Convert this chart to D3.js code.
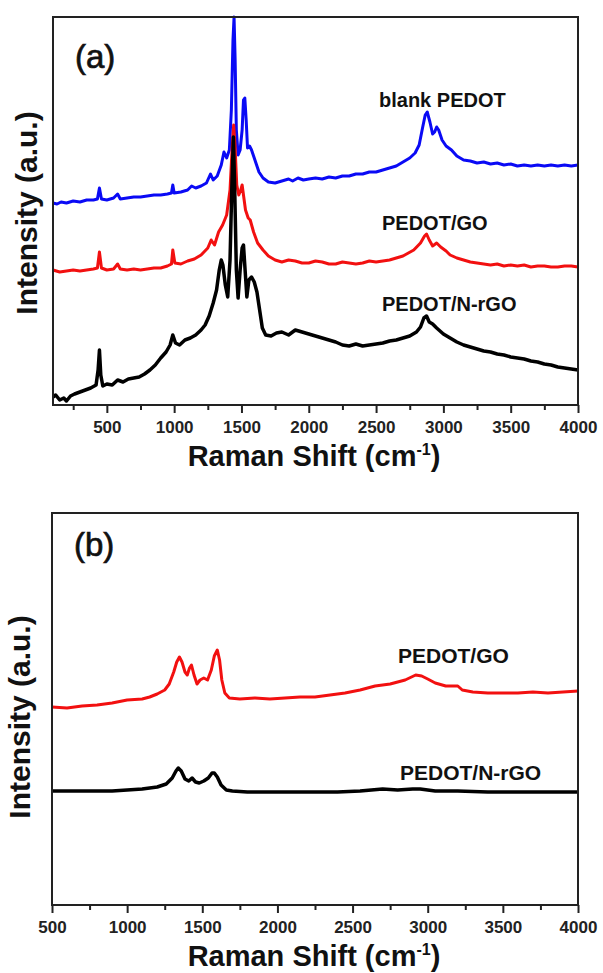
<!DOCTYPE html>
<html>
<head>
<meta charset="utf-8">
<script src="https://cdn.jsdelivr.net/npm/d3@7"></script>
<style>
  body { margin: 0; background: #fff; }
  svg { display: block; font-family: "Liberation Sans", Arial, sans-serif; }
</style>
</head>
<body>
<svg id="chart" width="603" height="973"></svg>
<script>
// ---- data (x = Raman shift in cm-1, y = intensity in a.u.) ----
const blankPedotA = [
  [100,202],[130,201],[160,203],[200,202],[250,204],[300,203],[350,205],[400,205],[430,206],[445,217],[460,206],
  [500,205],[550,207],[580,211],[600,206],[650,207],[700,208],[750,208],[800,209],[850,210],[900,210],[950,211],
  [980,212],[990,220],[1000,212],[1050,213],[1100,215],[1130,219],[1160,217],[1200,219],[1240,222],[1270,231],
  [1290,225],[1320,229],[1350,240],[1370,253],[1390,247],[1410,255],[1425,295],[1437,365],[1445,388],[1453,345],
  [1462,275],[1475,250],[1490,255],[1505,275],[1515,305],[1525,307],[1535,285],[1545,257],[1560,259],[1575,255],
  [1600,245],[1630,233],[1660,227],[1700,223],[1750,222],[1800,224],[1850,226],[1880,224],[1920,227],[1960,225],
  [2000,226],[2050,227],[2100,226],[2150,228],[2200,227],[2250,229],[2300,229],[2350,231],[2400,231],[2450,233],
  [2500,233],[2550,235],[2600,237],[2650,239],[2700,243],[2750,247],[2790,252],[2820,260],[2845,277],[2865,290],
  [2880,293],[2900,283],[2920,271],[2935,273],[2950,278],[2965,275],[2990,265],[3020,259],[3060,255],[3100,249],
  [3150,245],[3200,244],[3250,242],[3300,243],[3350,241],[3400,242],[3450,240],[3500,241],[3550,239],[3600,240],
  [3650,239],[3700,240],[3750,239],[3800,240],[3850,239],[3900,240],[3950,239],[4000,240]
];

const pedotGoA = [
  [100,135],[150,133],[200,134],[250,135],[300,134],[350,135],[400,136],[430,137],[445,153],[460,137],[500,135],
  [550,136],[580,141],[600,136],[650,135],[700,136],[750,135],[800,136],[850,137],[900,137],[950,139],[980,141],
  [990,155],[1005,142],[1050,141],[1100,144],[1150,146],[1200,150],[1250,157],[1275,165],[1300,160],[1330,173],
  [1360,180],[1390,190],[1415,215],[1430,255],[1442,280],[1452,260],[1465,220],[1480,210],[1495,215],[1505,220],
  [1515,210],[1530,195],[1550,187],[1565,185],[1590,173],[1620,162],[1660,155],[1700,149],[1750,145],[1800,143],
  [1850,145],[1900,144],[1950,142],[2000,142],[2050,144],[2100,143],[2150,141],[2200,141],[2250,143],[2300,142],
  [2350,141],[2400,142],[2450,144],[2500,143],[2550,144],[2600,145],[2650,147],[2700,149],[2740,152],[2780,155],
  [2830,162],[2860,169],[2875,171],[2895,165],[2920,159],[2950,162],[2980,158],[3020,154],[3050,150],[3100,147],
  [3150,145],[3200,143],[3250,142],[3300,141],[3350,140],[3400,141],[3450,139],[3500,140],[3550,139],[3600,140],
  [3650,138],[3700,139],[3750,139],[3800,138],[3850,138],[3900,139],[3950,139],[4000,138]
];

const pedotNrgoA = [
  [100,8],[120,10],[150,5],[180,7],[200,4],[230,9],[260,11],[300,13],[340,15],[380,17],[420,20],[435,35],[445,55],
  [455,30],[470,19],[500,21],[540,20],[580,25],[620,23],[660,26],[700,27],[740,28],[780,31],[820,35],[860,40],
  [900,47],[940,53],[970,60],[990,70],[1010,62],[1040,60],[1080,65],[1120,67],[1160,70],[1200,75],[1230,80],
  [1260,89],[1290,102],[1315,115],[1335,135],[1350,145],[1362,140],[1380,120],[1398,108],[1415,145],[1428,215],
  [1440,268],[1450,215],[1462,135],[1475,107],[1490,135],[1505,157],[1515,160],[1527,135],[1540,108],[1555,125],
  [1575,128],[1595,123],[1615,113],[1635,95],[1655,77],[1680,70],[1720,69],[1760,72],[1800,73],[1850,70],
  [1900,75],[1950,73],[2000,71],[2050,69],[2100,67],[2150,65],[2200,63],[2250,60],[2300,59],[2350,61],[2400,59],
  [2450,60],[2500,61],[2550,62],[2600,64],[2650,65],[2700,67],[2750,69],[2800,73],[2830,78],[2855,87],[2875,89],
  [2895,83],[2920,81],[2950,77],[3000,71],[3050,67],[3100,63],[3150,60],[3200,58],[3250,56],[3300,54],[3350,53],
  [3400,51],[3450,50],[3500,48],[3550,47],[3600,46],[3650,44],[3700,43],[3750,41],[3800,40],[3850,38],[3900,37],
  [3950,36],[4000,35]
];

const pedotGoB = [
  [500,198],[600,197],[700,199],[800,200],[900,202],[1000,205],[1100,206],[1150,208],[1200,211],[1250,215],
  [1280,221],[1310,233],[1330,243],[1348,248],[1365,243],[1385,233],[1400,230],[1415,237],[1428,240],[1445,230],
  [1465,221],[1485,225],[1510,227],[1535,225],[1560,235],[1580,249],[1600,255],[1615,245],[1630,225],[1650,212],
  [1680,207],[1750,206],[1850,207],[1950,206],[2050,207],[2150,208],[2250,208],[2350,210],[2450,212],[2550,215],
  [2650,219],[2750,221],[2850,225],[2920,230],[2960,229],[3000,226],[3050,222],[3120,219],[3200,219],[3230,215],
  [3300,213],[3400,212],[3500,212],[3600,212],[3700,213],[3800,212],[3900,213],[4000,214]
];

const pedotNrgoB = [
  [500,114],[700,114],[900,114],[1000,115],[1100,116],[1200,118],[1260,121],[1300,127],[1325,134],[1340,137],
  [1360,134],[1385,126],[1410,124],[1432,127],[1455,123],[1480,122],[1510,124],[1540,127],[1565,132],[1580,132],
  [1600,128],[1625,120],[1660,115],[1700,114],[1800,113],[1900,113],[2000,113],[2200,113],[2400,113],[2550,114],
  [2700,116],[2800,115],[2900,116],[2950,116],[3050,114],[3200,114],[3400,113],[3600,113],[3800,113],[4000,113]
];

const majorTicks = [500, 1000, 1500, 2000, 2500, 3000, 3500, 4000];
const minorTicksA = [250, 750, 1250, 1750, 2250, 2750, 3250, 3750];
const minorTicksB = [750, 1250, 1750, 2250, 2750, 3250, 3750];

const svg = d3.select('#chart');

function drawPanel(opts) {
  const { left, right, top, bottom, xDomain, yMax, series, minor, tag, titleX, titleBase, yTitleX } = opts;

  const x = d3.scaleLinear().domain(xDomain).range([left, right]);
  const y = d3.scaleLinear().domain([0, yMax]).range([bottom, top]);

  const g = svg.append('g');

  const line = d3.line()
    .x(d => x(d[0]))
    .y(d => y(d[1]));

  g.selectAll('path.trace')
    .data(series)
    .join('path')
    .attr('class', 'trace')
    .attr('d', s => line(s.values))
    .attr('fill', 'none')
    .attr('stroke', s => s.color)
    .attr('stroke-width', s => s.width)
    .attr('stroke-linejoin', 'round');

  // series labels
  g.selectAll('text.lbl')
    .data(series)
    .join('text')
    .attr('class', 'lbl')
    .attr('x', s => s.labelX)
    .attr('y', s => s.labelY)
    .attr('font-size', opts.labelSize)
    .attr('font-weight', 'bold')
    .attr('fill', '#111')
    .text(s => s.name);

  // frame
  g.append('rect')
    .attr('x', left)
    .attr('y', top)
    .attr('width', right - left)
    .attr('height', bottom - top)
    .attr('fill', 'none')
    .attr('stroke', '#222')
    .attr('stroke-width', 2);

  // major ticks with labels
  const ax = g.append('g')
    .attr('transform', `translate(0,${bottom})`)
    .call(d3.axisBottom(x).tickValues(majorTicks).tickSize(8).tickPadding(8).tickFormat(d3.format('d')));
  ax.select('.domain').remove();
  ax.selectAll('line').attr('stroke', '#222').attr('stroke-width', 2);
  ax.selectAll('text')
    .attr('font-size', 17)
    .attr('font-weight', 'bold')
    .attr('font-family', '"Liberation Sans", Arial, sans-serif')
    .attr('fill', '#222');

  // minor ticks
  const mx = g.append('g')
    .attr('transform', `translate(0,${bottom})`)
    .call(d3.axisBottom(x).tickValues(minor).tickSize(5).tickFormat(''));
  mx.select('.domain').remove();
  mx.selectAll('line').attr('stroke', '#222').attr('stroke-width', 2);

  // x title
  const xt = g.append('text')
    .attr('x', titleX)
    .attr('y', titleBase)
    .attr('text-anchor', 'middle')
    .attr('font-size', 29)
    .attr('font-weight', 'bold')
    .attr('fill', '#111');
  xt.append('tspan').text('Raman Shift (cm');
  xt.append('tspan').attr('font-size', 16).attr('dy', -11).text('-1');
  xt.append('tspan').attr('dy', 11).text(')');

  // y title
  g.append('text')
    .attr('transform', `translate(${yTitleX},${(top + bottom) / 2 + opts.yTitleShift}) rotate(-90)`)
    .attr('text-anchor', 'middle')
    .attr('font-size', 30)
    .attr('font-weight', 'bold')
    .attr('fill', '#111')
    .text('Intensity (a.u.)');

  // panel tag
  g.append('text')
    .attr('x', left + 22)
    .attr('y', tag.y)
    .attr('font-size', 33)
    .attr('fill', '#111')
    .attr('stroke', '#111')
    .attr('stroke-width', 0.7)
    .text(tag.text);
}

drawPanel({
  left: 53, right: 578, top: 17, bottom: 405,
  xDomain: [100, 4000], yMax: 388,
  minor: minorTicksA,
  tag: { text: '(a)', y: 68 },
  labelSize: 20,
  titleX: 314, titleBase: 466, yTitleX: 37, yTitleShift: 2,
  series: [
    { name: 'blank PEDOT', values: blankPedotA, color: '#0a0af5', width: 3, labelX: 379, labelY: 107 },
    { name: 'PEDOT/GO', values: pedotGoA, color: '#f21010', width: 3, labelX: 382, labelY: 230 },
    { name: 'PEDOT/N-rGO', values: pedotNrgoA, color: '#000', width: 3.5, labelX: 382, labelY: 311 }
  ]
});

drawPanel({
  left: 52, right: 578, top: 513, bottom: 905,
  xDomain: [500, 4000], yMax: 392,
  minor: minorTicksB,
  tag: { text: '(b)', y: 556 },
  labelSize: 21,
  titleX: 314, titleBase: 966, yTitleX: 30, yTitleShift: 8,
  series: [
    { name: 'PEDOT/GO', values: pedotGoB, color: '#f21010', width: 3, labelX: 398, labelY: 663 },
    { name: 'PEDOT/N-rGO', values: pedotNrgoB, color: '#000', width: 3.5, labelX: 400, labelY: 780 }
  ]
});
</script>
</body>
</html>
